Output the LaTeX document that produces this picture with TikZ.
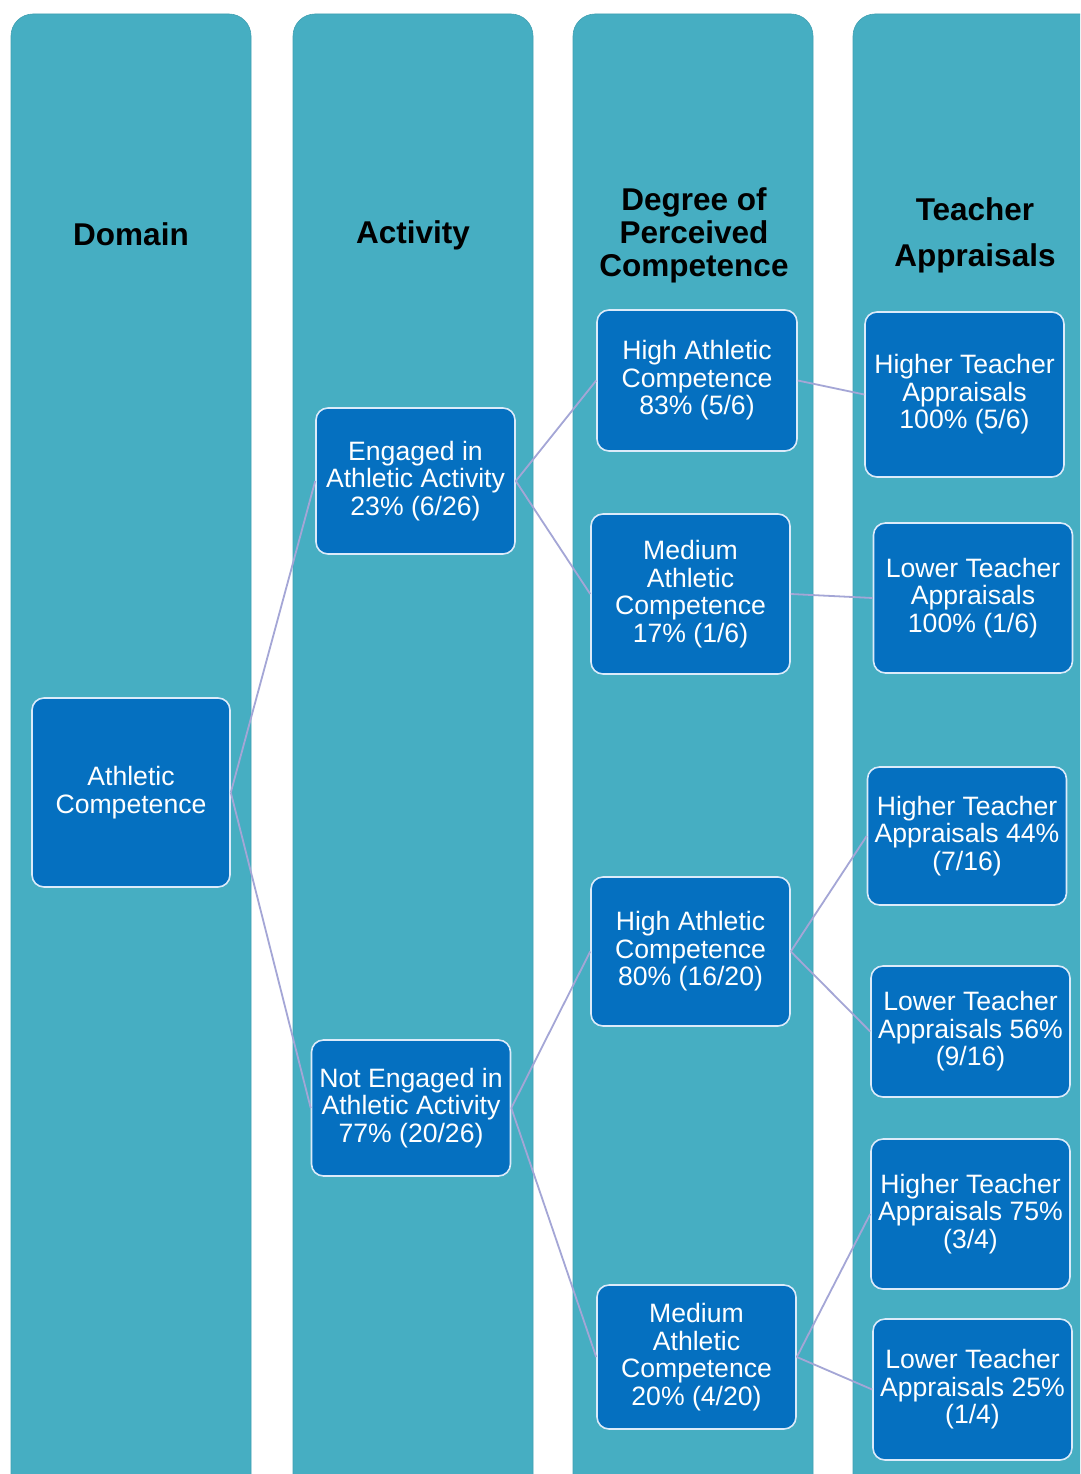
\documentclass[tikz,border=0pt]{standalone}
\usepackage{fontspec}
\setmainfont{Liberation Sans}
\definecolor{colteal}{HTML}{46AEC2}
\definecolor{boxblue}{HTML}{0570C0}
\definecolor{boxedge}{HTML}{DCEBFA}
\definecolor{linkcol}{HTML}{A4A6D6}
\tikzset{
  column/.style={fill=colteal, draw=colteal!92!black, line width=0.6pt, rounded corners=22pt},
  header/.style={align=center, text=black, font=\bfseries\fontsize{31.5}{33}\selectfont, inner sep=0pt},
  box/.style={draw=boxedge, line width=1.6pt, fill=boxblue, rounded corners=12pt,
    text=white, align=center, font=\fontsize{26.6}{27.5}\selectfont,
    minimum width=199pt, inner sep=0pt},
  link/.style={draw=linkcol, line width=1.8pt}
}
\begin{document}
\begin{tikzpicture}[x=1pt,y=-1pt]
\useasboundingbox (0,0) rectangle (1080,1474);
\clip (0,0) rectangle (1080,1474);
\fill[white] (0,0) rectangle (1080,1474);

% column panels
\path[column] (11,14) rectangle (251,1510);
\path[column] (293,14) rectangle (533,1510);
\path[column] (573,14) rectangle (813,1510);
\path[column] (853,14) rectangle (1110,1510);

% column headings
\node[header] (hdom) at (131,234) {Domain};
\node[header] (hact) at (413,235) {Activity};
\node[header] (hdeg) at (694,235) {Degree of\\Perceived\\Competence};
\node[header, font=\bfseries\fontsize{31.5}{46}\selectfont] (htea) at (975,235) {Teacher\\Appraisals};

% tree nodes
\node[box, minimum width=198pt, minimum height=189pt] (dom) at (131,792.5) {Athletic\\Competence};

\node[box, minimum height=146pt] (eng) at (415.5,481) {Engaged in\\Athletic Activity\\23\% (6/26)};
\node[box, minimum height=136pt] (not) at (411,1108) {Not Engaged in\\Athletic Activity\\77\% (20/26)};

\node[box, minimum width=200pt, minimum height=141pt] (hi1) at (697,380.5) {High Athletic\\Competence\\83\% (5/6)};
\node[box, minimum height=160pt] (me1) at (690.5,594) {Medium\\Athletic\\Competence\\17\% (1/6)};
\node[box, minimum height=149pt] (hi2) at (690.5,951.5) {High Athletic\\Competence\\80\% (16/20)};
\node[box, minimum height=144pt] (me2) at (696.5,1357) {Medium\\Athletic\\Competence\\20\% (4/20)};

\node[box, minimum height=165pt] (t1) at (964.5,394.5) {Higher Teacher\\Appraisals\\100\% (5/6)};
\node[box, minimum height=150pt] (t2) at (973,598) {Lower Teacher\\Appraisals\\100\% (1/6)};
\node[box, minimum height=138pt] (t3) at (967,836) {Higher Teacher\\Appraisals 44\%\\(7/16)};
\node[box, minimum height=131pt] (t4) at (970.5,1031.5) {Lower Teacher\\Appraisals 56\%\\(9/16)};
\node[box, minimum height=150pt] (t5) at (970.5,1214) {Higher Teacher\\Appraisals 75\%\\(3/4)};
\node[box, minimum height=141pt] (t6) at (972.5,1389.5) {Lower Teacher\\Appraisals 25\%\\(1/4)};

% connectors from each box's right side to its children
\path[link] (dom.east) -- (eng.west);
\path[link] (dom.east) -- (not.west);
\path[link] (eng.east) -- (hi1.west);
\path[link] (eng.east) -- (me1.west);
\path[link] (not.east) -- (hi2.west);
\path[link] (not.east) -- (me2.west);
\path[link] (hi1.east) -- (t1.west);
\path[link] (me1.east) -- (t2.west);
\path[link] (hi2.east) -- (t3.west);
\path[link] (hi2.east) -- (t4.west);
\path[link] (me2.east) -- (t5.west);
\path[link] (me2.east) -- (t6.west);
\end{tikzpicture}
\end{document}
